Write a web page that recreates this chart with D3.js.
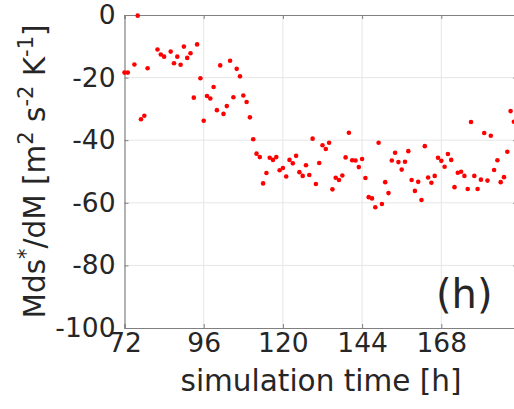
<!DOCTYPE html>
<html>
<head>
<meta charset="utf-8">
<script src="https://cdn.jsdelivr.net/npm/d3@7"></script>
<style>
  body { margin: 0; background: #fff; }
  text { font-family: "DejaVu Sans", sans-serif; fill: #262626; }
</style>
</head>
<body>
<svg id="chart" width="514" height="409"></svg>
<script>
// simulation time [h]
var hours = [72, 73, 75, 76, 77, 78, 79, 82, 83, 84, 86, 87, 88, 89, 90, 91, 92, 93, 94, 95,
  96, 97, 98, 99, 100, 101, 102, 103, 104, 105, 106, 107, 108, 109, 110, 111, 112, 113, 114, 115,
  116, 117, 118, 119, 120, 121, 122, 123, 124, 125, 126, 127, 128, 129, 130, 131, 132, 133, 134, 135,
  136, 137, 138, 139, 140, 141, 142, 143, 144, 145, 146, 147, 148, 149, 150, 151, 152, 153, 154, 155,
  156, 157, 158, 159, 160, 161, 162, 163, 164, 165, 166, 167, 168, 169, 170, 171, 172, 173, 174, 175,
  176, 177, 178, 179, 180, 181, 182, 183, 184, 185, 186, 187, 188, 189, 190];

// Mds*/dM [m2 s-2 K-1]
var values = [-18.4, -18.4, -15.8, -0.2, -33.3, -32.2, -17.0, -11.0, -12.6, -13.3, -11.7, -15.4, -13.3, -15.9, -10.1, -13.7, -12.2, -26.4, -9.4, -20.2,
  -33.8, -25.9, -26.7, -23.0, -30.4, -16.1, -31.6, -29.1, -14.6, -26.3, -17.2, -19.6, -25.7, -27.8, -32.7, -39.7, -44.3, -45.4, -53.8, -50.5,
  -45.6, -46.3, -45.4, -49.6, -48.9, -51.6, -46.3, -47.4, -45.0, -50.2, -51.4, -48.0, -51.1, -39.5, -54.0, -47.3, -41.6, -42.8, -40.8, -55.7,
  -52.0, -52.7, -51.3, -45.5, -37.6, -46.4, -46.5, -48.6, -46.0, -52.1, -58.2, -58.6, -61.4, -40.8, -60.4, -53.4, -56.9, -46.5, -44.0, -47.0,
  -49.4, -46.9, -43.5, -52.7, -56.2, -53.3, -59.1, -41.9, -51.9, -53.6, -51.4, -45.6, -46.6, -48.5, -44.4, -46.3, -55.0, -50.4, -50.1, -51.4,
  -55.6, -34.2, -51.4, -55.6, -52.6, -37.7, -52.9, -38.6, -49.5, -46.4, -53.4, -51.8, -43.7, -30.7, -34.1];

var xTicks = [72, 96, 120, 144, 168];
var yTicks = [-100, -80, -60, -40, -20, 0];

var svg = d3.select("#chart");

var pLeft = 124.5, pRight = 517.2, pTop = 15, pBottom = 328;

var x = d3.scaleLinear().domain([72, 191]).range([pLeft, pRight]);
var y = d3.scaleLinear().domain([-100, 0]).range([pBottom, pTop]);

// grid
svg.append("g").selectAll("line")
    .data(xTicks.slice(1))
    .enter().append("line")
    .attr("x1", function(d) { return x(d); })
    .attr("x2", function(d) { return x(d); })
    .attr("y1", pTop).attr("y2", pBottom)
    .attr("stroke", "#e6e6e6").attr("stroke-width", 1);

svg.append("g").selectAll("line")
    .data(yTicks.slice(1, -1))
    .enter().append("line")
    .attr("y1", function(d) { return y(d); })
    .attr("y2", function(d) { return y(d); })
    .attr("x1", pLeft).attr("x2", pRight)
    .attr("stroke", "#e6e6e6").attr("stroke-width", 1);

// axes (ticks inward, box)
var xAxis = d3.axisBottom(x).tickValues(xTicks).tickSize(-4).tickPadding(5);
var yAxis = d3.axisLeft(y).tickValues(yTicks).tickSize(-4).tickPadding(9);

var gx = svg.append("g")
    .attr("transform", "translate(0," + pBottom + ")")
    .call(xAxis);
var gy = svg.append("g")
    .attr("transform", "translate(" + pLeft + ",0)")
    .call(yAxis);

svg.append("g")
    .attr("transform", "translate(0," + pTop + ")")
    .call(d3.axisTop(x).tickValues(xTicks).tickSize(-4).tickFormat(""));
svg.append("g")
    .attr("transform", "translate(" + pRight + ",0)")
    .call(d3.axisRight(y).tickValues(yTicks).tickSize(-4).tickFormat(""));

svg.selectAll(".domain").attr("stroke", "#808080").attr("stroke-width", 1.2);
svg.selectAll(".tick line").attr("stroke", "#808080");
svg.selectAll(".tick text")
    .attr("font-size", 26.5)
    .attr("font-family", "DejaVu Sans")
    .attr("fill", "#262626");
gy.selectAll(".tick text").text(function(d) { return d < 0 ? "-" + Math.abs(d) : d; });

// points
svg.append("g").selectAll("circle")
    .data(hours)
    .enter().append("circle")
    .attr("cx", function(d) { return x(d); })
    .attr("cy", function(d, i) { return y(values[i]); })
    .attr("r", 2.3)
    .attr("fill", "#ff0000");

// x label
svg.append("text")
    .attr("x", 321)
    .attr("y", 391)
    .attr("text-anchor", "middle")
    .attr("font-size", 29.5)
    .text("simulation time [h]");

// y label
var yl = svg.append("text")
    .attr("transform", "translate(45," + ((pTop + pBottom) / 2) + ") rotate(-90)")
    .attr("text-anchor", "middle")
    .attr("font-size", 29.5);
yl.append("tspan").text("Mds");
yl.append("tspan").attr("font-size", 21).attr("dy", -12).text("*");
yl.append("tspan").attr("dy", 12).text("/dM [m");
yl.append("tspan").attr("font-size", 21).attr("dy", -12).text("2");
yl.append("tspan").attr("dy", 12).text(" s");
yl.append("tspan").attr("font-size", 21).attr("dy", -12).text("-2");
yl.append("tspan").attr("dy", 12).text(" K");
yl.append("tspan").attr("font-size", 21).attr("dy", -12).text("-1");
yl.append("tspan").attr("dy", 12).text("]");

// panel label
svg.append("text")
    .attr("x", 436)
    .attr("y", 308)
    .attr("font-size", 40)
    .text("(h)");
</script>
</body>
</html>
